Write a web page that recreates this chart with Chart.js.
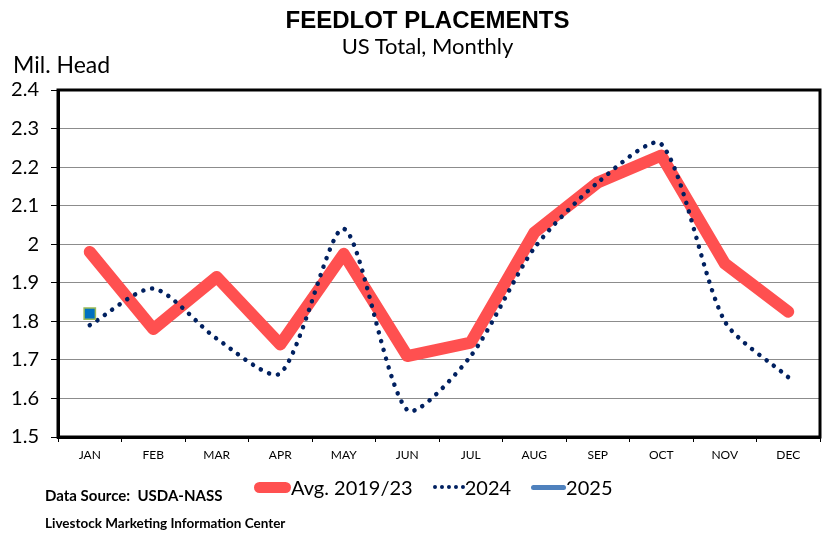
<!DOCTYPE html>
<html>
<head>
<meta charset="utf-8">
<script src="https://cdn.jsdelivr.net/npm/chart.js@4.4.1/dist/chart.umd.min.js"></script>
<style>
  body { margin: 0; background: #fff; }
  .wrap { position: relative; width: 835px; height: 549px; overflow: hidden; font-family: Lato, "Open Sans", sans-serif; color: #000; }
  canvas { position: absolute; left: 0; top: 0; }
  .txt { position: absolute; white-space: nowrap; line-height: 1; }
  .title { left: 0; width: 855px; text-align: center; top: 6px; font: bold 24px "Liberation Sans", Arial, sans-serif; }
  .subtitle { left: 0; width: 855px; text-align: center; top: 35px; font-size: 22px; }
  .unit { left: 13px; top: 53px; font-size: 23px; }
  .legend { position: absolute; left: 254px; top: 475px; display: flex; align-items: center; font-size: 20px; }
  .legend span { display: inline-block; }
  .sw-avg { width: 37px; height: 11px; border-radius: 6px; background: #ff5050; }
  .sw-24 { width: 32px; height: 0; border-top: 4px dotted #002060; margin-left: 20px; }
  .sw-25 { width: 35px; height: 5px; border-radius: 3px; background: #4f81bd; margin-left: 20px; }
  .src { left: 45px; top: 488px; font-weight: bold; font-size: 15px; }
  .lmic { left: 45px; top: 517px; font-weight: bold; font-size: 13.5px; }
</style>
</head>
<body>
<div class="wrap">
  <canvas id="chart" width="835" height="549"></canvas>
  <div class="txt title">FEEDLOT PLACEMENTS</div>
  <div class="txt subtitle">US Total, Monthly</div>
  <div class="txt unit">Mil. Head</div>
  <div class="legend">
    <span class="sw-avg"></span><span>Avg. 2019/23</span>
    <span class="sw-24"></span><span>2024</span>
    <span class="sw-25"></span><span>2025</span>
  </div>
  <div class="txt src">Data Source:&nbsp; USDA-NASS</div>
  <div class="txt lmic">Livestock Marketing Information Center</div>
</div>
<script>
const months = ["JAN", "FEB", "MAR", "APR", "MAY", "JUN", "JUL", "AUG", "SEP", "OCT", "NOV", "DEC"];
const avg1923 = [1.98, 1.78, 1.915, 1.74, 1.975, 1.71, 1.745, 2.03, 2.16, 2.23, 1.95, 1.825];
const y2024 = [1.79, 1.885, 1.755, 1.665, 2.04, 1.57, 1.71, 1.99, 2.16, 2.26, 1.80, 1.655];
const y2025 = [1.82, null, null, null, null, null, null, null, null, null, null, null];
const yTickLabels = ["1.5", "1.6", "1.7", "1.8", "1.9", "2", "2.1", "2.2", "2.3", "2.4"];

// black frame round the plot area
const framePlugin = {
    id: "frame",
    afterDatasetsDraw(chart) {
        const { ctx, chartArea: a } = chart;
        ctx.save();
        ctx.strokeStyle = "#000";
        ctx.lineWidth = 3;
        ctx.strokeRect(a.left, a.top, a.right - a.left, a.bottom - a.top);
        ctx.restore();
    },
};

new Chart(document.getElementById("chart"), {
    type: "line",
    data: {
        labels: months,
        datasets: [
            {
                label: "2025",
                data: y2025,
                showLine: false,
                pointStyle: "rect",
                pointRadius: 8,
                pointBackgroundColor: "#0070c0",
                pointBorderColor: "#9bbb59",
                pointBorderWidth: 1.5,
                order: 1,
            },
            {
                label: "2024",
                data: y2024,
                borderColor: "#002060",
                borderWidth: 4.5,
                borderDash: [0.1, 9],
                borderCapStyle: "round",
                tension: 0.25,
                pointRadius: 0,
                order: 2,
            },
            {
                label: "Avg. 2019/23",
                data: avg1923,
                borderColor: "#ff5050",
                borderWidth: 12,
                borderCapStyle: "round",
                borderJoinStyle: "round",
                pointRadius: 0,
                order: 3,
            },
        ],
    },
    options: {
        responsive: false,
        animation: false,
        devicePixelRatio: 1,
        layout: { padding: { top: 90, right: 15 } },
        plugins: {
            legend: { display: false },
            tooltip: { enabled: false },
        },
        scales: {
            x: {
                offset: true,
                afterFit: (s) => { s.height = 112; },
                grid: { offset: true, drawOnChartArea: false, tickLength: 5, tickColor: "#000" },
                border: { color: "#000", width: 3 },
                ticks: { color: "#000", padding: 6, font: { family: "Lato", size: 12 } },
            },
            y: {
                min: 1.5,
                max: 2.4,
                afterFit: (s) => { s.width = 58; },
                grid: { color: "#8c8c8c", lineWidth: 1, tickLength: 7, tickColor: "#000" },
                border: { color: "#000", width: 3 },
                ticks: {
                    stepSize: 0.1,
                    color: "#000",
                    padding: 12,
                    font: { family: "Lato", size: 20 },
                    callback: (v, i) => yTickLabels[i],
                },
            },
        },
    },
    plugins: [framePlugin],
});
</script>
</body>
</html>
